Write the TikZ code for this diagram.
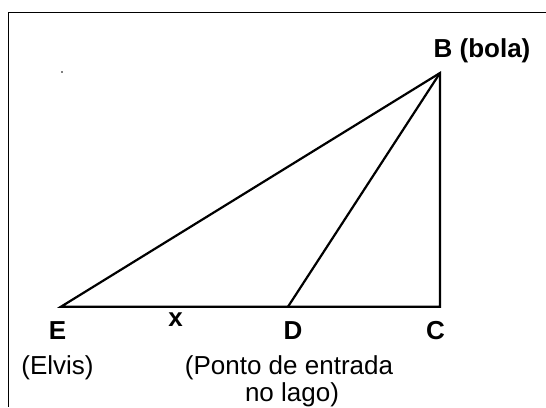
\documentclass[tikz,border=0pt]{standalone}
\usepackage{fontspec}
\setmainfont{Liberation Sans}
\begin{document}
\begin{tikzpicture}[x=1pt,y=1pt,
  lbl/.style={inner sep=0pt,anchor=base,font=\fontsize{26}{31}\selectfont},
  blbl/.style={lbl,font=\fontsize{26}{31}\selectfont\bfseries},
  side/.style={line width=2.2pt,line join=miter},
  frame/.style={line width=1.5pt}]
\useasboundingbox (0,0) rectangle (546,407);
\fill[white] (0,0) rectangle (546,407);
% frame (right and bottom edges fall outside the picture)
\coordinate (fTL) at (8.5,394.5);
\coordinate (fTR) at (546,394.5);
\coordinate (fBL) at (8.5,0);
\draw[frame] (fTR) -- (fTL) -- (fBL);
% points
\coordinate (E) at (61,100.3);
\coordinate (D) at (288,100.3);
\coordinate (C) at (440,100.3);
\coordinate (B) at (440,334);
\draw[side] (E) -- (C) -- (B) -- cycle;
\draw[side] (D) -- (B);
% stray dot
\fill[gray] (61,333.5) rectangle (63,335.5);
% labels
\node[blbl] (lB) at (482,349) {B (bola)};
\node[blbl] (lE) at (57.5,67) {E};
\node[blbl] (lx) at (175.5,80) {x};
\node[blbl] (lD) at (293,67) {D};
\node[blbl] (lC) at (435.5,67) {C};
\node[lbl] (lElvis) at (57.5,33) {(Elvis)};
\node[lbl] (lPonto) at (289,33) {(Ponto de entrada};
\node[lbl] (lLago) at (292,6) {no lago)};
\end{tikzpicture}
\end{document}
